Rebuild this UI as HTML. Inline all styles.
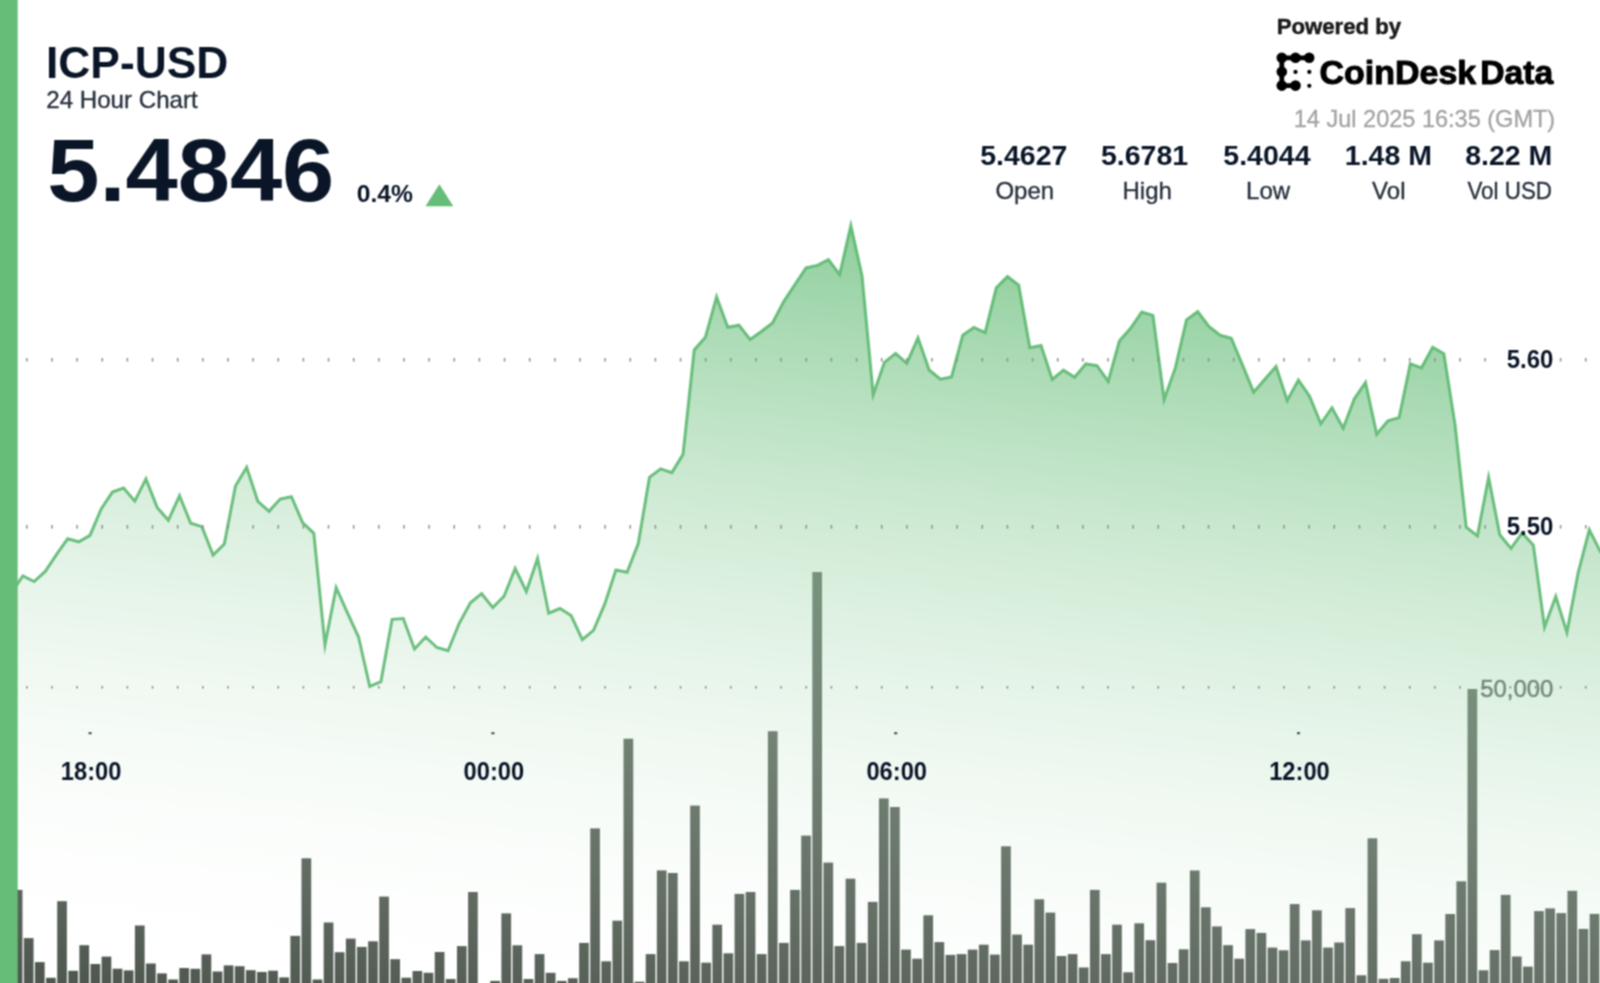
<!DOCTYPE html>
<html><head><meta charset="utf-8"><title>ICP-USD</title>
<style>
html,body{margin:0;padding:0;background:#fff;}
body{width:1600px;height:983px;overflow:hidden;}
body{position:relative;}
svg{display:block;position:absolute;left:-10px;top:-10px;font-family:"Liberation Sans",sans-serif;}
</style></head><body>
<svg width="1620" height="1003" viewBox="-10 -10 1620 1003">
<defs>
<linearGradient id="ag" gradientUnits="userSpaceOnUse" x1="800" y1="184.5" x2="695.3" y2="1055.5">
<stop offset="0" stop-color="#66bd78" stop-opacity="0.8"/>
<stop offset="1" stop-color="#ffffff" stop-opacity="0"/>
</linearGradient>
</defs>
<filter id="bl" color-interpolation-filters="sRGB" filterUnits="userSpaceOnUse" x="-10" y="-10" width="1620" height="1003"><feConvolveMatrix order="3" kernelMatrix="1 2 1 2 4 2 1 2 1" divisor="16" edgeMode="duplicate"/></filter>
<g filter="url(#bl)">
<rect x="-10" y="-10" width="1620" height="1003" fill="#fff"/>
<!-- volume bars -->
<g fill="#4e584f"><rect x="1.65" y="960.00" width="9.7" height="33.00"/><rect x="12.76" y="889.90" width="9.7" height="103.10"/><rect x="23.86" y="938.10" width="9.7" height="54.90"/><rect x="34.96" y="962.10" width="9.7" height="30.90"/><rect x="46.07" y="977.80" width="9.7" height="15.20"/><rect x="57.18" y="901.20" width="9.7" height="91.80"/><rect x="68.28" y="970.80" width="9.7" height="22.20"/><rect x="79.39" y="945.20" width="9.7" height="47.80"/><rect x="90.49" y="964.00" width="9.7" height="29.00"/><rect x="101.60" y="956.60" width="9.7" height="36.40"/><rect x="112.70" y="968.70" width="9.7" height="24.30"/><rect x="123.81" y="970.40" width="9.7" height="22.60"/><rect x="134.91" y="925.50" width="9.7" height="67.50"/><rect x="146.02" y="963.50" width="9.7" height="29.50"/><rect x="157.12" y="973.40" width="9.7" height="19.60"/><rect x="168.23" y="979.50" width="9.7" height="13.50"/><rect x="179.33" y="968.00" width="9.7" height="25.00"/><rect x="190.44" y="968.80" width="9.7" height="24.20"/><rect x="201.54" y="954.40" width="9.7" height="38.60"/><rect x="212.65" y="971.50" width="9.7" height="21.50"/><rect x="223.75" y="965.40" width="9.7" height="27.60"/><rect x="234.86" y="966.20" width="9.7" height="26.80"/><rect x="245.96" y="970.20" width="9.7" height="22.80"/><rect x="257.06" y="972.00" width="9.7" height="21.00"/><rect x="268.17" y="970.70" width="9.7" height="22.30"/><rect x="279.27" y="977.40" width="9.7" height="15.60"/><rect x="290.38" y="935.90" width="9.7" height="57.10"/><rect x="301.49" y="858.30" width="9.7" height="134.70"/><rect x="312.59" y="979.50" width="9.7" height="13.50"/><rect x="323.69" y="922.50" width="9.7" height="70.50"/><rect x="334.80" y="952.20" width="9.7" height="40.80"/><rect x="345.90" y="938.60" width="9.7" height="54.40"/><rect x="357.01" y="946.90" width="9.7" height="46.10"/><rect x="368.12" y="941.30" width="9.7" height="51.70"/><rect x="379.22" y="896.60" width="9.7" height="96.40"/><rect x="390.32" y="959.20" width="9.7" height="33.80"/><rect x="401.43" y="977.70" width="9.7" height="15.30"/><rect x="412.53" y="971.00" width="9.7" height="22.00"/><rect x="423.64" y="972.80" width="9.7" height="20.20"/><rect x="434.75" y="952.00" width="9.7" height="41.00"/><rect x="445.85" y="979.00" width="9.7" height="14.00"/><rect x="456.95" y="946.10" width="9.7" height="46.90"/><rect x="468.06" y="892.00" width="9.7" height="101.00"/><rect x="490.27" y="980.90" width="9.7" height="12.10"/><rect x="501.38" y="913.40" width="9.7" height="79.60"/><rect x="512.48" y="945.30" width="9.7" height="47.70"/><rect x="523.59" y="979.00" width="9.7" height="14.00"/><rect x="534.69" y="954.10" width="9.7" height="38.90"/><rect x="545.79" y="972.80" width="9.7" height="20.20"/><rect x="556.90" y="980.90" width="9.7" height="12.10"/><rect x="568.00" y="978.20" width="9.7" height="14.80"/><rect x="579.11" y="942.90" width="9.7" height="50.10"/><rect x="590.22" y="828.40" width="9.7" height="164.60"/><rect x="601.32" y="961.30" width="9.7" height="31.70"/><rect x="612.42" y="920.70" width="9.7" height="72.30"/><rect x="623.53" y="738.70" width="9.7" height="254.30"/><rect x="634.63" y="981.70" width="9.7" height="11.30"/><rect x="645.74" y="954.10" width="9.7" height="38.90"/><rect x="656.85" y="870.40" width="9.7" height="122.60"/><rect x="667.95" y="873.00" width="9.7" height="120.00"/><rect x="679.05" y="961.30" width="9.7" height="31.70"/><rect x="690.16" y="805.60" width="9.7" height="187.40"/><rect x="701.26" y="962.70" width="9.7" height="30.30"/><rect x="712.37" y="924.70" width="9.7" height="68.30"/><rect x="723.48" y="953.30" width="9.7" height="39.70"/><rect x="734.58" y="893.90" width="9.7" height="99.10"/><rect x="745.69" y="892.00" width="9.7" height="101.00"/><rect x="756.79" y="954.10" width="9.7" height="38.90"/><rect x="767.89" y="731.20" width="9.7" height="261.80"/><rect x="779.00" y="942.90" width="9.7" height="50.10"/><rect x="790.11" y="889.90" width="9.7" height="103.10"/><rect x="801.21" y="835.60" width="9.7" height="157.40"/><rect x="812.32" y="572.05" width="9.7" height="420.95"/><rect x="823.42" y="862.60" width="9.7" height="130.40"/><rect x="834.52" y="946.10" width="9.7" height="46.90"/><rect x="845.63" y="878.70" width="9.7" height="114.30"/><rect x="856.74" y="942.90" width="9.7" height="50.10"/><rect x="867.84" y="901.90" width="9.7" height="91.10"/><rect x="878.95" y="798.40" width="9.7" height="194.60"/><rect x="890.05" y="807.00" width="9.7" height="186.00"/><rect x="901.15" y="949.60" width="9.7" height="43.40"/><rect x="912.26" y="958.70" width="9.7" height="34.30"/><rect x="923.37" y="915.30" width="9.7" height="77.70"/><rect x="934.47" y="942.10" width="9.7" height="50.90"/><rect x="945.58" y="954.90" width="9.7" height="38.10"/><rect x="956.68" y="954.10" width="9.7" height="38.90"/><rect x="967.78" y="949.60" width="9.7" height="43.40"/><rect x="978.89" y="944.70" width="9.7" height="48.30"/><rect x="990.00" y="954.60" width="9.7" height="38.40"/><rect x="1001.10" y="846.30" width="9.7" height="146.70"/><rect x="1012.21" y="934.60" width="9.7" height="58.40"/><rect x="1023.31" y="944.70" width="9.7" height="48.30"/><rect x="1034.42" y="899.30" width="9.7" height="93.70"/><rect x="1045.52" y="912.60" width="9.7" height="80.40"/><rect x="1056.63" y="956.00" width="9.7" height="37.00"/><rect x="1067.73" y="954.10" width="9.7" height="38.90"/><rect x="1078.84" y="967.50" width="9.7" height="25.50"/><rect x="1089.94" y="889.90" width="9.7" height="103.10"/><rect x="1101.05" y="954.10" width="9.7" height="38.90"/><rect x="1112.15" y="924.70" width="9.7" height="68.30"/><rect x="1123.26" y="972.30" width="9.7" height="20.70"/><rect x="1134.36" y="923.30" width="9.7" height="69.70"/><rect x="1145.47" y="940.20" width="9.7" height="52.80"/><rect x="1156.57" y="882.70" width="9.7" height="110.30"/><rect x="1167.68" y="963.00" width="9.7" height="30.00"/><rect x="1178.78" y="949.30" width="9.7" height="43.70"/><rect x="1189.89" y="870.50" width="9.7" height="122.50"/><rect x="1200.99" y="907.30" width="9.7" height="85.70"/><rect x="1212.10" y="926.40" width="9.7" height="66.60"/><rect x="1223.20" y="945.20" width="9.7" height="47.80"/><rect x="1234.31" y="958.70" width="9.7" height="34.30"/><rect x="1245.41" y="929.10" width="9.7" height="63.90"/><rect x="1256.52" y="932.90" width="9.7" height="60.10"/><rect x="1267.62" y="947.60" width="9.7" height="45.40"/><rect x="1278.73" y="950.30" width="9.7" height="42.70"/><rect x="1289.83" y="904.10" width="9.7" height="88.90"/><rect x="1300.94" y="940.40" width="9.7" height="52.60"/><rect x="1312.04" y="910.30" width="9.7" height="82.70"/><rect x="1323.15" y="947.60" width="9.7" height="45.40"/><rect x="1334.25" y="942.50" width="9.7" height="50.50"/><rect x="1345.36" y="908.10" width="9.7" height="84.90"/><rect x="1356.46" y="975.30" width="9.7" height="17.70"/><rect x="1367.57" y="838.30" width="9.7" height="154.70"/><rect x="1378.67" y="978.80" width="9.7" height="14.20"/><rect x="1389.78" y="978.00" width="9.7" height="15.00"/><rect x="1400.88" y="961.30" width="9.7" height="31.70"/><rect x="1411.99" y="934.20" width="9.7" height="58.80"/><rect x="1423.09" y="962.70" width="9.7" height="30.30"/><rect x="1434.20" y="940.40" width="9.7" height="52.60"/><rect x="1445.30" y="914.00" width="9.7" height="79.00"/><rect x="1456.41" y="881.30" width="9.7" height="111.70"/><rect x="1467.51" y="689.00" width="9.7" height="304.00"/><rect x="1478.62" y="970.30" width="9.7" height="22.70"/><rect x="1489.72" y="950.10" width="9.7" height="42.90"/><rect x="1500.83" y="894.90" width="9.7" height="98.10"/><rect x="1511.93" y="956.50" width="9.7" height="36.50"/><rect x="1523.04" y="966.60" width="9.7" height="26.40"/><rect x="1534.14" y="911.10" width="9.7" height="81.90"/><rect x="1545.25" y="908.40" width="9.7" height="84.60"/><rect x="1556.35" y="913.10" width="9.7" height="79.90"/><rect x="1567.46" y="890.80" width="9.7" height="102.20"/><rect x="1578.56" y="928.90" width="9.7" height="64.10"/><rect x="1589.67" y="913.90" width="9.7" height="79.10"/></g>
<!-- area -->
<path d="M-10,592 L0.50,592.40 L11.69,592.40 L22.88,576.00 L34.07,581.50 L45.26,571.40 L56.44,554.70 L67.63,538.80 L78.82,541.80 L90.01,535.40 L101.20,508.90 L112.39,492.10 L123.58,488.10 L134.77,501.11 L145.95,478.94 L157.14,507.40 L168.33,520.28 L179.52,495.78 L190.71,523.20 L201.90,526.60 L213.09,555.11 L224.28,544.00 L235.47,486.00 L246.65,467.32 L257.84,501.30 L269.03,511.30 L280.22,499.10 L291.41,496.70 L302.60,522.60 L313.79,533.30 L324.98,644.69 L336.16,587.74 L347.35,612.60 L358.54,637.00 L369.73,686.45 L380.92,681.60 L392.11,619.30 L403.30,618.50 L414.49,648.96 L425.67,637.00 L436.86,647.50 L448.05,650.70 L459.24,623.30 L470.43,602.80 L481.62,593.70 L492.81,607.58 L504.00,596.20 L515.19,568.56 L526.37,591.52 L537.56,558.53 L548.75,613.24 L559.94,608.50 L571.13,615.60 L582.32,639.71 L593.51,630.40 L604.70,604.20 L615.88,570.00 L627.07,572.30 L638.26,543.50 L649.45,477.40 L660.64,468.90 L671.83,472.60 L683.02,454.40 L694.21,350.00 L705.40,337.20 L716.58,296.88 L727.77,327.20 L738.96,325.20 L750.15,339.50 L761.34,331.50 L772.53,322.90 L783.72,301.60 L794.91,284.50 L806.09,267.90 L817.28,265.40 L828.47,259.70 L839.66,274.59 L850.85,225.51 L862.04,275.90 L873.23,394.68 L884.42,362.30 L895.60,353.40 L906.79,363.27 L917.98,337.90 L929.17,370.00 L940.36,379.10 L951.55,377.00 L962.74,335.20 L973.93,327.40 L985.12,332.55 L996.30,287.80 L1007.49,276.60 L1018.68,285.20 L1029.87,347.80 L1041.06,345.60 L1052.25,379.43 L1063.44,370.20 L1074.63,377.30 L1085.81,363.90 L1097.00,365.70 L1108.19,381.33 L1119.38,341.10 L1130.57,328.30 L1141.76,312.00 L1152.95,315.40 L1164.14,399.46 L1175.33,367.90 L1186.51,319.80 L1197.70,311.60 L1208.89,326.50 L1220.08,335.10 L1231.27,338.20 L1242.46,364.90 L1253.65,392.16 L1264.84,379.20 L1276.02,366.50 L1287.21,400.42 L1298.40,380.14 L1309.59,396.20 L1320.78,423.75 L1331.97,407.75 L1343.16,428.19 L1354.35,398.80 L1365.53,382.39 L1376.72,434.16 L1387.91,420.90 L1399.10,417.60 L1410.29,363.64 L1421.48,367.80 L1432.67,347.30 L1443.86,353.80 L1455.05,424.80 L1466.23,527.30 L1477.42,535.85 L1488.61,477.31 L1499.80,534.80 L1510.99,548.41 L1522.18,532.96 L1533.37,545.20 L1544.56,627.10 L1555.74,596.43 L1566.93,632.40 L1578.12,572.90 L1589.31,529.75 L1600.50,551.70 L1610,551.3 L1610,993 L-10,993 Z" fill="url(#ag)"/>
<path d="M-10,592 L0.50,592.40 L11.69,592.40 L22.88,576.00 L34.07,581.50 L45.26,571.40 L56.44,554.70 L67.63,538.80 L78.82,541.80 L90.01,535.40 L101.20,508.90 L112.39,492.10 L123.58,488.10 L134.77,501.11 L145.95,478.94 L157.14,507.40 L168.33,520.28 L179.52,495.78 L190.71,523.20 L201.90,526.60 L213.09,555.11 L224.28,544.00 L235.47,486.00 L246.65,467.32 L257.84,501.30 L269.03,511.30 L280.22,499.10 L291.41,496.70 L302.60,522.60 L313.79,533.30 L324.98,644.69 L336.16,587.74 L347.35,612.60 L358.54,637.00 L369.73,686.45 L380.92,681.60 L392.11,619.30 L403.30,618.50 L414.49,648.96 L425.67,637.00 L436.86,647.50 L448.05,650.70 L459.24,623.30 L470.43,602.80 L481.62,593.70 L492.81,607.58 L504.00,596.20 L515.19,568.56 L526.37,591.52 L537.56,558.53 L548.75,613.24 L559.94,608.50 L571.13,615.60 L582.32,639.71 L593.51,630.40 L604.70,604.20 L615.88,570.00 L627.07,572.30 L638.26,543.50 L649.45,477.40 L660.64,468.90 L671.83,472.60 L683.02,454.40 L694.21,350.00 L705.40,337.20 L716.58,296.88 L727.77,327.20 L738.96,325.20 L750.15,339.50 L761.34,331.50 L772.53,322.90 L783.72,301.60 L794.91,284.50 L806.09,267.90 L817.28,265.40 L828.47,259.70 L839.66,274.59 L850.85,225.51 L862.04,275.90 L873.23,394.68 L884.42,362.30 L895.60,353.40 L906.79,363.27 L917.98,337.90 L929.17,370.00 L940.36,379.10 L951.55,377.00 L962.74,335.20 L973.93,327.40 L985.12,332.55 L996.30,287.80 L1007.49,276.60 L1018.68,285.20 L1029.87,347.80 L1041.06,345.60 L1052.25,379.43 L1063.44,370.20 L1074.63,377.30 L1085.81,363.90 L1097.00,365.70 L1108.19,381.33 L1119.38,341.10 L1130.57,328.30 L1141.76,312.00 L1152.95,315.40 L1164.14,399.46 L1175.33,367.90 L1186.51,319.80 L1197.70,311.60 L1208.89,326.50 L1220.08,335.10 L1231.27,338.20 L1242.46,364.90 L1253.65,392.16 L1264.84,379.20 L1276.02,366.50 L1287.21,400.42 L1298.40,380.14 L1309.59,396.20 L1320.78,423.75 L1331.97,407.75 L1343.16,428.19 L1354.35,398.80 L1365.53,382.39 L1376.72,434.16 L1387.91,420.90 L1399.10,417.60 L1410.29,363.64 L1421.48,367.80 L1432.67,347.30 L1443.86,353.80 L1455.05,424.80 L1466.23,527.30 L1477.42,535.85 L1488.61,477.31 L1499.80,534.80 L1510.99,548.41 L1522.18,532.96 L1533.37,545.20 L1544.56,627.10 L1555.74,596.43 L1566.93,632.40 L1578.12,572.90 L1589.31,529.75 L1600.50,551.70 L1610,557.3" fill="none" stroke="#5ab76e" stroke-opacity="0.88" stroke-width="3.0" stroke-linejoin="miter" stroke-miterlimit="10"/>
<!-- grid -->
<g fill="#8b908c"><rect x="0.91" y="358.00" width="1.5" height="3.6"/><rect x="26.05" y="358.00" width="1.5" height="3.6"/><rect x="51.20" y="358.00" width="1.5" height="3.6"/><rect x="76.34" y="358.00" width="1.5" height="3.6"/><rect x="101.49" y="358.00" width="1.5" height="3.6"/><rect x="126.63" y="358.00" width="1.5" height="3.6"/><rect x="151.77" y="358.00" width="1.5" height="3.6"/><rect x="176.92" y="358.00" width="1.5" height="3.6"/><rect x="202.06" y="358.00" width="1.5" height="3.6"/><rect x="227.21" y="358.00" width="1.5" height="3.6"/><rect x="252.35" y="358.00" width="1.5" height="3.6"/><rect x="277.49" y="358.00" width="1.5" height="3.6"/><rect x="302.64" y="358.00" width="1.5" height="3.6"/><rect x="327.78" y="358.00" width="1.5" height="3.6"/><rect x="352.93" y="358.00" width="1.5" height="3.6"/><rect x="378.07" y="358.00" width="1.5" height="3.6"/><rect x="403.21" y="358.00" width="1.5" height="3.6"/><rect x="428.36" y="358.00" width="1.5" height="3.6"/><rect x="453.50" y="358.00" width="1.5" height="3.6"/><rect x="478.65" y="358.00" width="1.5" height="3.6"/><rect x="503.79" y="358.00" width="1.5" height="3.6"/><rect x="528.93" y="358.00" width="1.5" height="3.6"/><rect x="554.08" y="358.00" width="1.5" height="3.6"/><rect x="579.22" y="358.00" width="1.5" height="3.6"/><rect x="604.37" y="358.00" width="1.5" height="3.6"/><rect x="629.51" y="358.00" width="1.5" height="3.6"/><rect x="654.65" y="358.00" width="1.5" height="3.6"/><rect x="679.80" y="358.00" width="1.5" height="3.6"/><rect x="704.94" y="358.00" width="1.5" height="3.6"/><rect x="730.09" y="358.00" width="1.5" height="3.6"/><rect x="755.23" y="358.00" width="1.5" height="3.6"/><rect x="780.37" y="358.00" width="1.5" height="3.6"/><rect x="805.52" y="358.00" width="1.5" height="3.6"/><rect x="830.66" y="358.00" width="1.5" height="3.6"/><rect x="855.81" y="358.00" width="1.5" height="3.6"/><rect x="880.95" y="358.00" width="1.5" height="3.6"/><rect x="906.09" y="358.00" width="1.5" height="3.6"/><rect x="931.24" y="358.00" width="1.5" height="3.6"/><rect x="956.38" y="358.00" width="1.5" height="3.6"/><rect x="981.53" y="358.00" width="1.5" height="3.6"/><rect x="1006.67" y="358.00" width="1.5" height="3.6"/><rect x="1031.81" y="358.00" width="1.5" height="3.6"/><rect x="1056.96" y="358.00" width="1.5" height="3.6"/><rect x="1082.10" y="358.00" width="1.5" height="3.6"/><rect x="1107.25" y="358.00" width="1.5" height="3.6"/><rect x="1132.39" y="358.00" width="1.5" height="3.6"/><rect x="1157.53" y="358.00" width="1.5" height="3.6"/><rect x="1182.68" y="358.00" width="1.5" height="3.6"/><rect x="1207.82" y="358.00" width="1.5" height="3.6"/><rect x="1232.97" y="358.00" width="1.5" height="3.6"/><rect x="1258.11" y="358.00" width="1.5" height="3.6"/><rect x="1283.25" y="358.00" width="1.5" height="3.6"/><rect x="1308.40" y="358.00" width="1.5" height="3.6"/><rect x="1333.54" y="358.00" width="1.5" height="3.6"/><rect x="1358.69" y="358.00" width="1.5" height="3.6"/><rect x="1383.83" y="358.00" width="1.5" height="3.6"/><rect x="1408.97" y="358.00" width="1.5" height="3.6"/><rect x="1434.12" y="358.00" width="1.5" height="3.6"/><rect x="1459.26" y="358.00" width="1.5" height="3.6"/><rect x="1484.41" y="358.00" width="1.5" height="3.6"/><rect x="1559.84" y="358.00" width="1.5" height="3.6"/><rect x="1584.98" y="358.00" width="1.5" height="3.6"/></g>
<g fill="#8b908c"><rect x="0.91" y="525.05" width="1.5" height="3.6"/><rect x="26.05" y="525.05" width="1.5" height="3.6"/><rect x="51.20" y="525.05" width="1.5" height="3.6"/><rect x="76.34" y="525.05" width="1.5" height="3.6"/><rect x="101.49" y="525.05" width="1.5" height="3.6"/><rect x="126.63" y="525.05" width="1.5" height="3.6"/><rect x="151.77" y="525.05" width="1.5" height="3.6"/><rect x="176.92" y="525.05" width="1.5" height="3.6"/><rect x="202.06" y="525.05" width="1.5" height="3.6"/><rect x="227.21" y="525.05" width="1.5" height="3.6"/><rect x="252.35" y="525.05" width="1.5" height="3.6"/><rect x="277.49" y="525.05" width="1.5" height="3.6"/><rect x="302.64" y="525.05" width="1.5" height="3.6"/><rect x="327.78" y="525.05" width="1.5" height="3.6"/><rect x="352.93" y="525.05" width="1.5" height="3.6"/><rect x="378.07" y="525.05" width="1.5" height="3.6"/><rect x="403.21" y="525.05" width="1.5" height="3.6"/><rect x="428.36" y="525.05" width="1.5" height="3.6"/><rect x="453.50" y="525.05" width="1.5" height="3.6"/><rect x="478.65" y="525.05" width="1.5" height="3.6"/><rect x="503.79" y="525.05" width="1.5" height="3.6"/><rect x="528.93" y="525.05" width="1.5" height="3.6"/><rect x="554.08" y="525.05" width="1.5" height="3.6"/><rect x="579.22" y="525.05" width="1.5" height="3.6"/><rect x="604.37" y="525.05" width="1.5" height="3.6"/><rect x="629.51" y="525.05" width="1.5" height="3.6"/><rect x="654.65" y="525.05" width="1.5" height="3.6"/><rect x="679.80" y="525.05" width="1.5" height="3.6"/><rect x="704.94" y="525.05" width="1.5" height="3.6"/><rect x="730.09" y="525.05" width="1.5" height="3.6"/><rect x="755.23" y="525.05" width="1.5" height="3.6"/><rect x="780.37" y="525.05" width="1.5" height="3.6"/><rect x="805.52" y="525.05" width="1.5" height="3.6"/><rect x="830.66" y="525.05" width="1.5" height="3.6"/><rect x="855.81" y="525.05" width="1.5" height="3.6"/><rect x="880.95" y="525.05" width="1.5" height="3.6"/><rect x="906.09" y="525.05" width="1.5" height="3.6"/><rect x="931.24" y="525.05" width="1.5" height="3.6"/><rect x="956.38" y="525.05" width="1.5" height="3.6"/><rect x="981.53" y="525.05" width="1.5" height="3.6"/><rect x="1006.67" y="525.05" width="1.5" height="3.6"/><rect x="1031.81" y="525.05" width="1.5" height="3.6"/><rect x="1056.96" y="525.05" width="1.5" height="3.6"/><rect x="1082.10" y="525.05" width="1.5" height="3.6"/><rect x="1107.25" y="525.05" width="1.5" height="3.6"/><rect x="1132.39" y="525.05" width="1.5" height="3.6"/><rect x="1157.53" y="525.05" width="1.5" height="3.6"/><rect x="1182.68" y="525.05" width="1.5" height="3.6"/><rect x="1207.82" y="525.05" width="1.5" height="3.6"/><rect x="1232.97" y="525.05" width="1.5" height="3.6"/><rect x="1258.11" y="525.05" width="1.5" height="3.6"/><rect x="1283.25" y="525.05" width="1.5" height="3.6"/><rect x="1308.40" y="525.05" width="1.5" height="3.6"/><rect x="1333.54" y="525.05" width="1.5" height="3.6"/><rect x="1358.69" y="525.05" width="1.5" height="3.6"/><rect x="1383.83" y="525.05" width="1.5" height="3.6"/><rect x="1408.97" y="525.05" width="1.5" height="3.6"/><rect x="1434.12" y="525.05" width="1.5" height="3.6"/><rect x="1459.26" y="525.05" width="1.5" height="3.6"/><rect x="1484.41" y="525.05" width="1.5" height="3.6"/><rect x="1559.84" y="525.05" width="1.5" height="3.6"/><rect x="1584.98" y="525.05" width="1.5" height="3.6"/></g>
<g fill="#8b908c"><rect x="0.91" y="686.00" width="1.5" height="2.6"/><rect x="26.05" y="686.00" width="1.5" height="2.6"/><rect x="51.20" y="686.00" width="1.5" height="2.6"/><rect x="76.34" y="686.00" width="1.5" height="2.6"/><rect x="101.49" y="686.00" width="1.5" height="2.6"/><rect x="126.63" y="686.00" width="1.5" height="2.6"/><rect x="151.77" y="686.00" width="1.5" height="2.6"/><rect x="176.92" y="686.00" width="1.5" height="2.6"/><rect x="202.06" y="686.00" width="1.5" height="2.6"/><rect x="227.21" y="686.00" width="1.5" height="2.6"/><rect x="252.35" y="686.00" width="1.5" height="2.6"/><rect x="277.49" y="686.00" width="1.5" height="2.6"/><rect x="302.64" y="686.00" width="1.5" height="2.6"/><rect x="327.78" y="686.00" width="1.5" height="2.6"/><rect x="352.93" y="686.00" width="1.5" height="2.6"/><rect x="378.07" y="686.00" width="1.5" height="2.6"/><rect x="403.21" y="686.00" width="1.5" height="2.6"/><rect x="428.36" y="686.00" width="1.5" height="2.6"/><rect x="453.50" y="686.00" width="1.5" height="2.6"/><rect x="478.65" y="686.00" width="1.5" height="2.6"/><rect x="503.79" y="686.00" width="1.5" height="2.6"/><rect x="528.93" y="686.00" width="1.5" height="2.6"/><rect x="554.08" y="686.00" width="1.5" height="2.6"/><rect x="579.22" y="686.00" width="1.5" height="2.6"/><rect x="604.37" y="686.00" width="1.5" height="2.6"/><rect x="629.51" y="686.00" width="1.5" height="2.6"/><rect x="654.65" y="686.00" width="1.5" height="2.6"/><rect x="679.80" y="686.00" width="1.5" height="2.6"/><rect x="704.94" y="686.00" width="1.5" height="2.6"/><rect x="730.09" y="686.00" width="1.5" height="2.6"/><rect x="755.23" y="686.00" width="1.5" height="2.6"/><rect x="780.37" y="686.00" width="1.5" height="2.6"/><rect x="805.52" y="686.00" width="1.5" height="2.6"/><rect x="830.66" y="686.00" width="1.5" height="2.6"/><rect x="855.81" y="686.00" width="1.5" height="2.6"/><rect x="880.95" y="686.00" width="1.5" height="2.6"/><rect x="906.09" y="686.00" width="1.5" height="2.6"/><rect x="931.24" y="686.00" width="1.5" height="2.6"/><rect x="956.38" y="686.00" width="1.5" height="2.6"/><rect x="981.53" y="686.00" width="1.5" height="2.6"/><rect x="1006.67" y="686.00" width="1.5" height="2.6"/><rect x="1031.81" y="686.00" width="1.5" height="2.6"/><rect x="1056.96" y="686.00" width="1.5" height="2.6"/><rect x="1082.10" y="686.00" width="1.5" height="2.6"/><rect x="1107.25" y="686.00" width="1.5" height="2.6"/><rect x="1132.39" y="686.00" width="1.5" height="2.6"/><rect x="1157.53" y="686.00" width="1.5" height="2.6"/><rect x="1182.68" y="686.00" width="1.5" height="2.6"/><rect x="1207.82" y="686.00" width="1.5" height="2.6"/><rect x="1232.97" y="686.00" width="1.5" height="2.6"/><rect x="1258.11" y="686.00" width="1.5" height="2.6"/><rect x="1283.25" y="686.00" width="1.5" height="2.6"/><rect x="1308.40" y="686.00" width="1.5" height="2.6"/><rect x="1333.54" y="686.00" width="1.5" height="2.6"/><rect x="1358.69" y="686.00" width="1.5" height="2.6"/><rect x="1383.83" y="686.00" width="1.5" height="2.6"/><rect x="1408.97" y="686.00" width="1.5" height="2.6"/><rect x="1434.12" y="686.00" width="1.5" height="2.6"/><rect x="1459.26" y="686.00" width="1.5" height="2.6"/><rect x="1484.41" y="686.00" width="1.5" height="2.6"/><rect x="1509.55" y="686.00" width="1.5" height="2.6"/><rect x="1534.69" y="686.00" width="1.5" height="2.6"/><rect x="1559.84" y="686.00" width="1.5" height="2.6"/><rect x="1584.98" y="686.00" width="1.5" height="2.6"/></g>
<!-- left bar -->
<rect x="-10" y="-10" width="27.7" height="1003" fill="#66bd78"/>
<!-- y labels -->
<g font-weight="700" font-size="25.2" fill="#0a1628">
<text x="1506.8" y="368.4" textLength="46.6" lengthAdjust="spacingAndGlyphs">5.60</text>
<text x="1506.8" y="535.4" textLength="46.6" lengthAdjust="spacingAndGlyphs">5.50</text>
<rect x="88.6" y="732.2" width="3.0" height="2" fill="#3a4250"/><text x="60.8" y="780.4" textLength="60.6" lengthAdjust="spacingAndGlyphs">18:00</text><rect x="491.4" y="732.2" width="3.0" height="2" fill="#3a4250"/><text x="463.6" y="780.4" textLength="60.6" lengthAdjust="spacingAndGlyphs">00:00</text><rect x="894.2" y="732.2" width="3.0" height="2" fill="#3a4250"/><text x="866.4" y="780.4" textLength="60.6" lengthAdjust="spacingAndGlyphs">06:00</text><rect x="1297.0" y="732.2" width="3.0" height="2" fill="#3a4250"/><text x="1269.2" y="780.4" textLength="60.6" lengthAdjust="spacingAndGlyphs">12:00</text>
</g>
<text x="1480.2" y="696.5" font-size="24.6" fill="#5d7563" fill-opacity="0.78" stroke="#5d7563" stroke-opacity="0.78" stroke-width="0.5" textLength="73.2" lengthAdjust="spacingAndGlyphs">50,000</text>
<!-- header -->
<text x="46.0" y="78.1" font-size="44" font-weight="700" fill="#0a1628" textLength="182.4" lengthAdjust="spacingAndGlyphs">ICP-USD</text>
<text x="46.3" y="107.6" font-size="24" fill="#28313e" stroke="#28313e" stroke-width="0.35" textLength="151.4" lengthAdjust="spacingAndGlyphs">24 Hour Chart</text>
<text x="47.3" y="200.8" font-size="89.5" font-weight="700" fill="#0a1628" textLength="287" lengthAdjust="spacingAndGlyphs">5.4846</text>
<text x="356.8" y="201.5" font-size="24" font-weight="700" fill="#0a1628" textLength="56.2" lengthAdjust="spacingAndGlyphs">0.4%</text>
<path d="M439.4,184.2 L453.3,206.3 L425.5,206.3 Z" fill="#66bd78"/>
<!-- brand -->
<text x="1276.7" y="33.9" font-size="21.5" font-weight="700" fill="#1b1b1b" stroke="#1b1b1b" stroke-width="0.5" textLength="124.3" lengthAdjust="spacingAndGlyphs">Powered by</text>
<g fill="#000" stroke="#000">
<g stroke-width="4.8" stroke-linecap="round" fill="none"><path d="M1309.2,57.8 L1281.8,57.8 L1281.8,85.6 L1295.5,85.6"/></g>
<g stroke="none">
<circle cx="1281.8" cy="57.8" r="5.3"/><circle cx="1295.5" cy="57.8" r="5.3"/><circle cx="1309.2" cy="57.8" r="5.3"/>
<circle cx="1281.8" cy="71.7" r="5.3"/><circle cx="1281.8" cy="85.6" r="5.3"/><circle cx="1295.5" cy="85.6" r="5.3"/>
<circle cx="1295.5" cy="71.9" r="2.1"/><circle cx="1309.3" cy="71.9" r="2.1"/><circle cx="1309.3" cy="85.8" r="2.1"/>
</g></g>
<g font-size="34" font-weight="700" fill="#000" stroke="#000" stroke-width="1" stroke-linejoin="round">
<text x="1319.6" y="84.1" textLength="156.6" lengthAdjust="spacingAndGlyphs">CoinDesk</text>
<text x="1480.2" y="84.1" textLength="73" lengthAdjust="spacingAndGlyphs">Data</text></g>
<text x="1293.8" y="126.6" font-size="24" fill="#a3a3a3" stroke="#a3a3a3" stroke-width="0.3" textLength="261.4" lengthAdjust="spacingAndGlyphs">14 Jul 2025 16:35 (GMT)</text>
<!-- stats -->
<g font-size="28.5" font-weight="700" fill="#0a1628" text-anchor="middle">
<text x="1023.8" y="165">5.4627</text>
<text x="1144.6" y="165">5.6781</text>
<text x="1266.9" y="165">5.4044</text>
<text x="1388.4" y="165">1.48 M</text>
<text x="1508.7" y="165">8.22 M</text>
</g>
<g font-size="24" fill="#28313e" stroke="#28313e" stroke-width="0.35" text-anchor="middle">
<text x="1024.8" y="199">Open</text>
<text x="1147.2" y="199">High</text>
<text x="1268.1" y="199">Low</text>
<text x="1388.8" y="199">Vol</text>
<text x="1509.7" y="199" textLength="84.5" lengthAdjust="spacingAndGlyphs">Vol USD</text>
</g>
</g>
</svg>
</body></html>
